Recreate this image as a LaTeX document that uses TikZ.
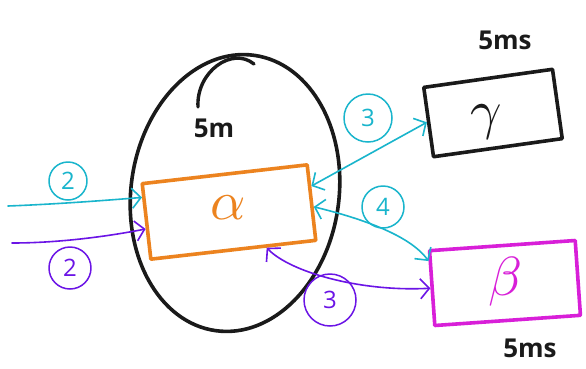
\documentclass[tikz,border=0pt]{standalone}
\usepackage{fontspec}
\setsansfont{Open Sans}
\usetikzlibrary{shapes.geometric,arrows.meta}
\definecolor{cyanink}{HTML}{19B5CC}
\definecolor{purpink}{HTML}{6B14E6}
\definecolor{orngink}{HTML}{EC831F}
\definecolor{magink}{HTML}{D81FD8}
\definecolor{blkink}{HTML}{1A1A1A}
\tikzset{
  thickbox/.style={draw=#1, line width=3.6pt, rectangle},
  arr/.style={draw=#1, line width=1.6pt, {Straight Barb[length=9pt,width=20pt]}-{Straight Barb[length=9pt,width=20pt]}},
  arrone/.style={draw=#1, line width=1.6pt, -{Straight Barb[length=9pt,width=20pt]}},
  numlabel/.style={circle, draw=#1, text=#1, line width=1.5pt, inner sep=0pt, font=\sffamily\fontsize{24}{24}\selectfont},
  hand/.style={text=blkink, font=\sffamily\bfseries\fontsize{26}{26}\selectfont},
  greek/.style={text=#1, scale=5.5}
}
\begin{document}
\begin{tikzpicture}[x=1pt,y=-1pt,line cap=round,line join=round]
\useasboundingbox (0,0) rectangle (586,368);
\fill[white] (0,0) rectangle (586,368);
% ellipse
\node[ellipse, draw=blkink, line width=3.6pt, minimum width=208pt, minimum height=278pt, rotate=-8] (ell) at (235,193) {};
% hook stroke
\coordinate (hookA) at (198,107);
\coordinate (hookB) at (254,64);
\draw[blkink, line width=3.4pt] (hookA) .. controls (196,72) and (232,46) .. (hookB);
\node[hand] (fivem) at (214,128) {5m};
% boxes
\node[thickbox=orngink, minimum width=166pt, minimum height=76pt, rotate=6.5] (alpha) at (229,212) {};
\node[greek=orngink] (alphatxt) at (228,208) {$\alpha$};
\node[thickbox=blkink, minimum width=130pt, minimum height=70pt, rotate=8] (gamma) at (493,113) {};
\node[greek=blkink] (gammatxt) at (486,122) {$\gamma$};
\node[hand] (fivemsA) at (505,40) {5ms};
\node[thickbox=magink, minimum width=146pt, minimum height=75pt, rotate=4] (beta) at (505,283) {};
\node[greek=magink] (betatxt) at (505,282) {$\beta$};
\node[hand] (fivemsB) at (530,348) {5ms};
% incoming arrows
\coordinate (inC) at (8,206);
\coordinate (inP) at (12,243);
\draw[arrone=cyanink] (inC) .. controls (60,204) and (110,200) .. (alpha.164);
\draw[arrone=purpink] (inP) .. controls (60,243) and (110,236) .. (alpha.185);
\node[numlabel=cyanink, minimum size=38pt] (l2c) at (68,181) {2};
\node[numlabel=purpink, minimum size=42pt] (l2p) at (70,268) {2};
% alpha <-> gamma
\draw[arr=cyanink] (alpha.11) -- (gamma.west);
\node[numlabel=cyanink, minimum size=48pt] (l3c) at (368,118) {3};
% alpha <-> beta
\draw[arr=cyanink] (alpha.-3) .. controls (360,218) and (410,235) .. (beta.160);
\node[numlabel=cyanink, minimum size=42pt] (l4c) at (383,207) {4};
% alpha <-> beta purple
\draw[arr=purpink] (alpha.-50) .. controls (290,272) and (360,292) .. (beta.west);
\node[numlabel=purpink, minimum size=52pt] (l3p) at (330,300) {3};
\end{tikzpicture}
\end{document}
